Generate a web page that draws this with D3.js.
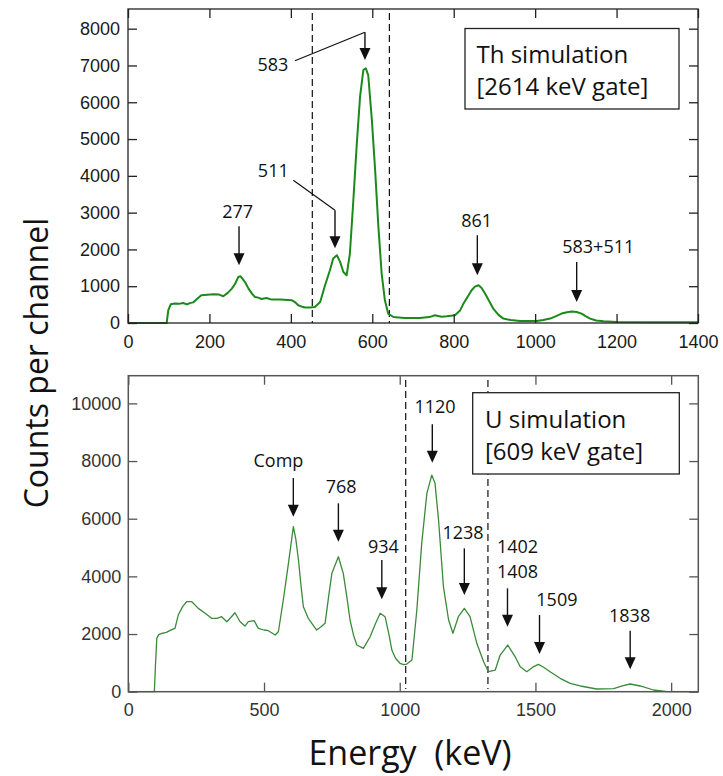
<!DOCTYPE html>
<html><head><meta charset="utf-8">
<script src="https://cdn.jsdelivr.net/npm/d3@7"></script>
<style>
body{margin:0;background:#fff;}
svg{display:block;}
</style></head>
<body>
<svg id="chart" width="723" height="776"></svg>
<script>
// ---------- DATA ----------
// Th simulation [2614 keV gate]: [energy keV, counts]
const thSpectrum = [[0,0],[95,0],[99,350],[105,509],[115,530],[125,520],[135,545],[145,505],[152,540],[160,560],[170,660],[180,754],[195,770],[210,780],[224,772],[234,727],[245,820],[255,935],[263,1060],[271,1252],[276,1270],[281,1207],[288,1100],[296,935],[305,790],[312,708],[320,690],[328,653],[340,680],[353,636],[375,640],[402,620],[410,570],[418,481],[428,440],[435,419],[447,420],[459,435],[472,571],[484,1026],[496,1434],[504,1752],[513,1842],[521,1660],[529,1388],[537,1298],[545,1888],[553,3249],[562,4882],[570,6150],[578,6876],[584,6922],[590,6740],[599,5516],[607,4155],[615,2612],[623,1344],[631,618],[639,256],[652,163],[679,136],[717,136],[740,160],[754,210],[770,170],[783,182],[803,210],[815,330],[824,528],[835,730],[844,890],[852,990],[861,1026],[868,960],[877,800],[887,600],[897,392],[910,220],[922,120],[940,80],[963,54],[1004,54],[1020,80],[1037,120],[1050,180],[1065,256],[1078,290],[1090,310],[1102,300],[1114,256],[1125,180],[1135,120],[1150,70],[1168,46],[1200,30],[1300,20],[1400,20]];
// U simulation [609 keV gate]
const uSpectrum = [[0,0],[96,0],[100,900],[105,1851],[112,1980],[123,2025],[140,2060],[160,2150],[172,2198],[184,2659],[200,2950],[215,3121],[234,3121],[258,2890],[283,2718],[307,2545],[327,2545],[344,2601],[363,2427],[380,2600],[393,2740],[412,2427],[430,2278],[442,2427],[464,2462],[479,2198],[500,2140],[516,2115],[541,1966],[553,2080],[571,3180],[590,4452],[608,5721],[617,5300],[627,4567],[636,3700],[645,2947],[663,2545],[694,2139],[710,2250],[725,2372],[738,3300],[750,4105],[774,4681],[792,4105],[805,3300],[817,2486],[830,1950],[842,1619],[866,1505],[891,1907],[910,2350],[928,2718],[946,2601],[960,2000],[971,1446],[985,1150],[1001,985],[1015,940],[1026,960],[1045,1099],[1063,2833],[1081,5146],[1100,6880],[1118,7514],[1130,7226],[1143,5954],[1161,3641],[1180,2486],[1196,2025],[1216,2601],[1238,2890],[1259,2601],[1284,1678],[1309,1040],[1327,694],[1352,752],[1370,1272],[1398,1619],[1425,1214],[1444,867],[1468,694],[1490,850],[1511,950],[1530,850],[1554,694],[1591,464],[1628,291],[1665,198],[1726,94],[1788,104],[1820,200],[1849,267],[1886,198],[1935,59],[1985,0],[2100,0]];

const thXTicks = [0,200,400,600,800,1000,1200,1400];
const thYTicks = [0,1000,2000,3000,4000,5000,6000,7000,8000];
const uXTicks = [0,500,1000,1500,2000];
const uYTicks = [0,2000,4000,6000,8000,10000];

const thGates = [452.7, 642];
const uGates = [1022, 1325];

// annotations: label, arrow energy, tail/tip counts, label energy, label baseline counts, optional leader start
const thNotes = [
  {lines:["277"], ax:272.7, tail:2631, tip:1570, lx:269.5, ly:[2849]},
  {lines:["511"], ax:508.4, tail:3067, tip:2033, lx:356.9, ly:[3965], leader:[406,3883]},
  {lines:["583"], ax:582, tail:7902, tip:7148, lx:356, ly:[6857], leader:[410,7129]},
  {lines:["861"], ax:858, tail:2386, tip:1298, lx:856.5, ly:[2612]},
  {lines:["583+511"], ax:1102, tail:1660, tip:571, lx:1155, ly:[1897]}
];
const uNotes = [
  {lines:["Comp"], ax:608, tail:7410, tip:6068, lx:553, ly:[7802]},
  {lines:["768"], ax:774, tail:6533, tip:5201, lx:784, ly:[6879]},
  {lines:["934"], ax:934, tail:4567, tip:3204, lx:940, ly:[4820]},
  {lines:["1120"], ax:1120, tail:9272, tip:7940, lx:1130, ly:[9674]},
  {lines:["1238"], ax:1238, tail:4972, tip:3353, lx:1233, ly:[5284]},
  {lines:["1402","1408"], ax:1397, tail:3585, tip:2254, lx:1434, ly:[4820,3932]},
  {lines:["1509"], ax:1515, tail:2660, tip:1307, lx:1579, ly:[2972]},
  {lines:["1838"], ax:1849, tail:2115, tip:777, lx:1847, ly:[2427]}
];

// ---------- DRAW ----------
const svg = d3.select("#chart");
svg.append("rect").attr("width",723).attr("height",776).attr("fill","#fff");
const labelFont = "'Open Sans', Carlito, Calibri, sans-serif";
const tickFont = "'Liberation Sans', Arial, sans-serif";

function panel(cfg){
  const x = d3.scaleLinear().domain(cfg.xDomain).range([cfg.left, cfg.right]);
  const y = d3.scaleLinear().domain(cfg.yDomain).range([cfg.bottom, cfg.top]);
  const g = svg.append("g");

  // dashed gate lines
  g.selectAll("line.gate").data(cfg.gates).join("line")
    .attr("x1", d=>x(d)).attr("x2", d=>x(d))
    .attr("y1", cfg.gateTop).attr("y2", cfg.gateBottom)
    .attr("stroke","#111").attr("stroke-width",1.2).attr("stroke-dasharray","7,4");

  // spectrum
  const line = d3.line().x(d=>x(d[0])).y(d=>y(d[1]));
  g.append("path").datum(cfg.data).attr("d", line)
    .attr("fill","none").attr("stroke", cfg.color).attr("stroke-width", cfg.lw)
    .attr("stroke-linejoin","round");

  // axes with inward ticks
  const styleAx = (sel) => {
    sel.select(".domain").remove();
    sel.selectAll(".tick line").attr("stroke", cfg.frame).attr("stroke-width",1.3);
  };
  g.append("g").attr("transform",`translate(0,${cfg.bottom})`)
    .call(d3.axisBottom(x).tickValues(cfg.xTicks).tickSize(-9).tickPadding(12).tickFormat(d3.format("d")))
    .call(styleAx);
  g.append("g").attr("transform",`translate(0,${cfg.top})`)
    .call(d3.axisTop(x).tickValues(cfg.xTicks).tickSize(-9).tickFormat(""))
    .call(styleAx);
  g.append("g").attr("transform",`translate(${cfg.left},0)`)
    .call(d3.axisLeft(y).tickValues(cfg.yTicks).tickSize(-9).tickPadding(cfg.yPad).tickFormat(d3.format("d")))
    .call(styleAx);
  g.append("g").attr("transform",`translate(${cfg.right},0)`)
    .call(d3.axisRight(y).tickValues(cfg.yTicks).tickSize(-9).tickFormat(""))
    .call(styleAx);
  g.selectAll(".tick text").attr("font-family", tickFont).attr("font-size", cfg.tickSize).attr("fill", cfg.tickColor);

  // frame
  g.append("rect").attr("x",cfg.left).attr("y",cfg.top)
    .attr("width",cfg.right-cfg.left).attr("height",cfg.bottom-cfg.top)
    .attr("fill","none").attr("stroke",cfg.frame).attr("stroke-width",cfg.frameW);

  // annotations
  const notes = g.selectAll("g.note").data(cfg.notes).join("g");
  notes.each(function(d){
    const n = d3.select(this);
    const ax = x(d.ax), tipY = y(d.tip), tailY = y(d.tail);
    if(d.leader){
      n.append("line").attr("x1",x(d.leader[0])).attr("y1",y(d.leader[1]))
        .attr("x2",ax).attr("y2",tailY).attr("stroke","#111").attr("stroke-width",1.2);
    }
    n.append("line").attr("x1",ax).attr("x2",ax).attr("y1",tailY).attr("y2",tipY-10)
      .attr("stroke","#111").attr("stroke-width",1.4);
    n.append("path").attr("d",`M${ax-5.5},${tipY-12}L${ax+5.5},${tipY-12}L${ax},${tipY}Z`).attr("fill","#111");
    d.lines.forEach((t,i)=>{
      n.append("text").attr("x",x(d.lx)).attr("y",y(d.ly[i]))
        .attr("text-anchor","middle").attr("font-family",labelFont).attr("font-size",18)
        .attr("fill","#111").text(t);
    });
  });

  // legend box
  const b = cfg.box;
  g.append("rect").attr("x",b.x).attr("y",b.y).attr("width",b.w).attr("height",b.h)
    .attr("fill","#fff").attr("stroke","#222").attr("stroke-width",1.3);
  b.lines.forEach((t,i)=>{
    g.append("text").attr("x",b.tx).attr("y",b.ty[i]).attr("font-family",labelFont)
      .attr("font-size",24).attr("fill","#111").text(t);
  });
}

panel({
  data: thSpectrum, xDomain:[0,1400], yDomain:[0,8535],
  left:128, right:698, top:9, bottom:323,
  xTicks: thXTicks, yTicks: thYTicks, gates: thGates, gateTop: 13, gateBottom: 323,
  color:"#1b8a1b", lw:2, frame:"#222", frameW:1.3, tickColor:"#1a1a1a", tickSize:18, yPad:8,
  notes: thNotes,
  box:{x:465, y:28.5, w:214, h:80.5, tx:476.5, ty:[63,95], lines:["Th simulation","[2614 keV gate]"]}
});

panel({
  data: uSpectrum, xDomain:[0,2100], yDomain:[0,10960],
  left:128.3, right:698.3, top:375.7, bottom:691.7,
  xTicks: uXTicks, yTicks: uYTicks, gates: uGates, gateTop: 380, gateBottom: 689,
  color:"#3a8a3a", lw:1.3, frame:"#555", frameW:1.5, tickColor:"#333", tickSize:18, yPad:7,
  notes: uNotes,
  box:{x:472.7, y:392.7, w:206.6, h:81.3, tx:485, ty:[428,460], lines:["U simulation","[609 keV gate]"]}
});

// axis titles
svg.append("text").attr("transform","translate(48,363) rotate(-90)")
  .attr("text-anchor","middle").attr("font-family",labelFont).attr("font-size",32)
  .attr("fill","#111").text("Counts per channel");
svg.append("text").attr("x",410).attr("y",765)
  .attr("text-anchor","middle").attr("font-family",labelFont).attr("font-size",34)
  .attr("fill","#111").style("white-space","pre").text("Energy  (keV)");
</script>
</body></html>
